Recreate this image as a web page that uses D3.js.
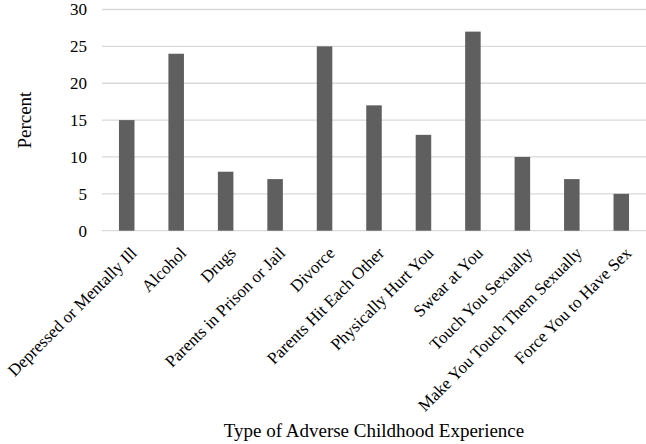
<!DOCTYPE html>
<html><head><meta charset="utf-8">
<script src="https://cdn.jsdelivr.net/npm/d3@7"></script>
<style>body{margin:0;background:#fff}svg{display:block}text{font-family:"Liberation Serif","Times New Roman",serif;fill:#000}</style>
</head><body><svg id="c" width="646" height="444"></svg>
<script>
const categories = ["Depressed or Mentally Ill","Alcohol","Drugs","Parents in Prison or Jail","Divorce","Parents Hit Each Other","Physically Hurt You","Swear at You","Touch You Sexually","Make You Touch Them Sexually","Force You to Have Sex"];
const values = [15,24,8,7,25,17,13,27,10,7,5];
const yTicks = [0,5,10,15,20,25,30];
const yTitle = "Percent";
const xTitle = "Type of Adverse Childhood Experience";

const svg = d3.select("#c");
const m = {left:102, right:646, top:9.5, bottom:230.7};
const x = d3.scaleBand().domain(categories).range([m.left, m.right]).paddingInner(0.686).paddingOuter(0.343);
const y = d3.scaleLinear().domain([0,30]).range([m.bottom, m.top]);

svg.append("g").selectAll("line").data(yTicks).join("line")
  .attr("x1", m.left).attr("x2", m.right)
  .attr("y1", d=>y(d)).attr("y2", d=>y(d))
  .attr("stroke","#d9d9d9").attr("stroke-width",1.3);

svg.append("g").selectAll("text").data(yTicks).join("text")
  .attr("x", 87).attr("y", d=>y(d)).attr("dy","0.35em")
  .attr("text-anchor","end").attr("font-size",17).text(d=>d);

svg.append("g").selectAll("rect").data(values).join("rect")
  .attr("x",(d,i)=>x(categories[i])).attr("width",x.bandwidth())
  .attr("y",d=>y(d)).attr("height",d=>y(0)-y(d))
  .attr("fill","#5f5f5f");

svg.append("g").selectAll("text").data(categories).join("text")
  .attr("transform", d=>`translate(${x(d)+x.bandwidth()/2+3},${246}) rotate(-45)`)
  .attr("text-anchor","end").attr("dy","0.68em").attr("font-size",17).text(d=>d);

svg.append("text").attr("transform",`translate(31,${(m.top+m.bottom)/2}) rotate(-90)`)
  .attr("text-anchor","middle").attr("font-size",19).text(yTitle);
svg.append("text").attr("x",(m.left+m.right)/2).attr("y",437)
  .attr("text-anchor","middle").attr("font-size",19).text(xTitle);
</script></body></html>
